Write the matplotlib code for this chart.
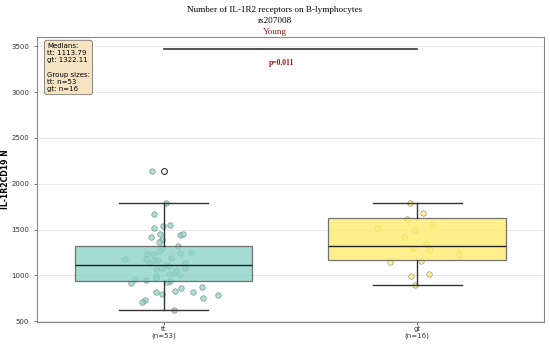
import matplotlib
matplotlib.use('Agg')
import matplotlib.pyplot as plt
import numpy as np

# genotype groups and box statistics
groups = ["tt", "gt"]
group_sizes = [53, 16]
medians = [1113.79, 1322.11]
q1 = [942, 1163]
q3 = [1315, 1627]
whisker_low = [627, 896]
whisker_high = [1789, 1793]
outliers = [[2134], []]

# individual measurements (value, horizontal jitter)
tt_values = [2134, 1789, 1666, 1517, 1542, 1550, 1419, 1452, 1437, 1452,
             1390, 1368, 1317, 1295, 1237, 1237, 1248, 1255, 1183, 1176,
             1165, 1172, 1186, 1136, 1139, 1110, 1107, 1085, 1070, 1078,
             1027, 1019, 1005, 998, 976, 965, 954, 943, 925, 914,
             863, 870, 834, 816, 820, 798, 791, 754, 729, 711,
             627, 1266, 1056]
tt_jitter = [-0.045, 0.010, -0.037, -0.039, -0.003, 0.025, -0.049, -0.013, 0.066, 0.076,
             -0.008, -0.017, 0.057, -0.008, -0.066, -0.043, 0.066, 0.107, -0.154, -0.068,
             -0.039, -0.024, 0.029, -0.058, 0.086, 0.010, 0.021, -0.007, -0.030, 0.086,
             0.039, 0.022, 0.066, -0.030, -0.030, -0.112, -0.070, 0.025, 0.013, -0.128,
             0.067, 0.151, 0.043, -0.032, 0.114, -0.008, 0.213, 0.155, -0.075, -0.087,
             0.041, -0.020, 0.050]
gt_values = [1793, 1684, 1611, 1521, 1492, 1346, 1298, 1274, 1230, 1161,
             1143, 994, 1016, 896, 1560, 1420]
gt_jitter = [-0.030, 0.024, -0.042, -0.157, -0.008, 0.036, -0.016, 0.051, 0.163, 0.016,
             -0.108, -0.026, 0.046, -0.009, 0.060, -0.050]

p_text = "p=0.011"
colors = ["#8dd3c7", "#ffed6f"]

fig = plt.figure(figsize=(5.5, 3.46), dpi=100)
ax = fig.add_axes([0.067, 0.069, 0.922, 0.824])

# jittered points under the boxes
for i, (vals, jit) in enumerate([(tt_values, tt_jitter), (gt_values, gt_jitter)]):
    xs = i + np.array(jit)
    ax.scatter(xs, vals, s=16, color=colors[i], alpha=0.75,
               edgecolors="#777777", linewidths=0.5, zorder=1)

stats = []
for i in range(len(groups)):
    stats.append({"med": medians[i], "q1": q1[i], "q3": q3[i],
                  "whislo": whisker_low[i], "whishi": whisker_high[i],
                  "fliers": outliers[i], "label": f"{groups[i]}\n(n={group_sizes[i]})"})

bp = ax.bxp(stats, positions=range(len(groups)), widths=0.7, capwidths=0.35,
            patch_artist=True, manage_ticks=False,
            boxprops=dict(edgecolor="#555555", linewidth=0.9),
            medianprops=dict(color="#222222", linewidth=1.0),
            whiskerprops=dict(color="#333333", linewidth=1.0),
            capprops=dict(color="#333333", linewidth=1.0),
            flierprops=dict(marker="o", markerfacecolor="none",
                            markeredgecolor="#333333", markersize=4.2,
                            markeredgewidth=0.8))
for patch, c in zip(bp["boxes"], colors):
    patch.set_facecolor(c)
    patch.set_alpha(0.8)
    patch.set_zorder(2)

# significance bar
ax.plot([0, 1], [3467, 3467], color="#333333", linewidth=1.2)
ax.text(0.466, 3315, p_text, ha="center", va="center", color="#a01010",
        fontsize=5.5, fontweight="bold", family="Liberation Serif")

ax.set_xlim(-0.5, 1.5)
ax.set_ylim(490, 3600)
ax.set_yticks(np.arange(500, 3501, 500))
ax.set_xticks(range(len(groups)))
ax.set_xticklabels([f"{g}\n(n={n})" for g, n in zip(groups, group_sizes)],
                   fontsize=5, linespacing=1.0)
ax.tick_params(axis="y", labelsize=5, length=2, width=0.5, colors="#333333")
ax.tick_params(axis="x", length=2, width=0.5, colors="#333333", pad=1)
ax.yaxis.grid(True, color="#e8e8e8", linewidth=0.7)
ax.set_axisbelow(True)
for sp in ax.spines.values():
    sp.set_color("#888888")
    sp.set_linewidth(0.8)

ax.set_ylabel("IL-1R2CD19 N", fontsize=5.6, fontweight="bold")
ax.yaxis.set_label_coords(-0.052, 0.5)

# summary box
summary = ("Medians:\n" + "\n".join(f"{g}: {m:.2f}" for g, m in zip(groups, medians))
           + "\n\nGroup sizes:\n" + "\n".join(f"{g}: n={n}" for g, n in zip(groups, group_sizes)))
ax.text(0.02, 0.98, summary, transform=ax.transAxes, ha="left", va="top",
        fontsize=5, linespacing=1.25,
        bbox=dict(boxstyle="round,pad=0.35", facecolor="wheat", alpha=0.8,
                  edgecolor="#555555", linewidth=0.6))

# title lines
cx = 0.5
fig.text(cx, 1 - 10 / 346, "Number of IL-1R2 receptors on B-lymphocytes", ha="center",
         va="center", fontsize=6.6, family="Liberation Serif")
fig.text(cx, 1 - 21 / 346, "rs207008", ha="center", va="center", fontsize=6.6,
         family="Liberation Serif")
fig.text(cx, 1 - 31.5 / 346, "Young", ha="center", va="center", fontsize=6.6,
         family="Liberation Serif", color="#a01010")

fig.savefig("out.png", dpi=100)
